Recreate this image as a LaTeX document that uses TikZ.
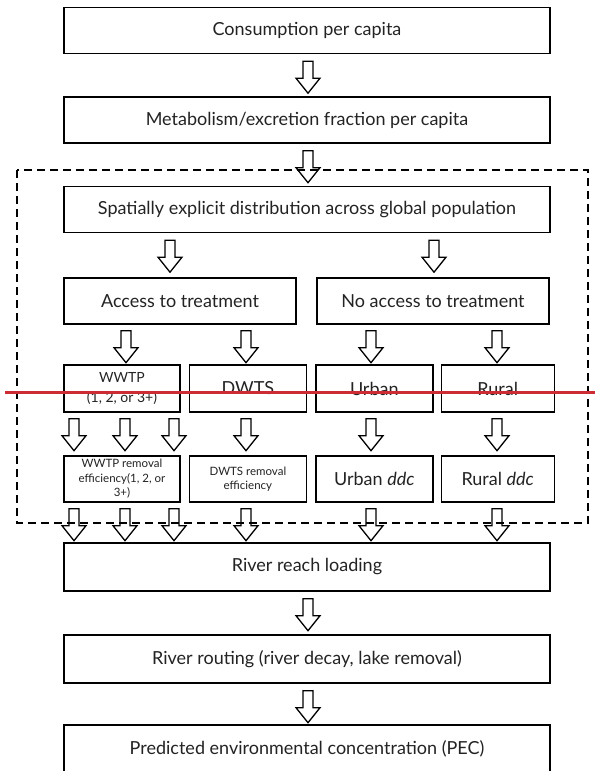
\documentclass[tikz,border=0pt]{standalone}
\usepackage{fontspec}
\setmainfont{Lato}
\usetikzlibrary{calc,positioning}
\definecolor{fltext}{RGB}{35,35,35}
\definecolor{flred}{RGB}{205,45,50}

\begin{document}
\begin{tikzpicture}[
    x=1pt, y=-1pt,
    box/.style={
        draw=black,
        line width=1.4pt,
        minimum height=46pt,
        inner sep=2pt,
        align=center,
        text=fltext,
        font=\fontsize{18}{20}\selectfont
    },
    wide/.style={box, minimum width=486pt},
    half/.style={box, minimum width=232pt},
    cell/.style={box, minimum width=116pt},
    small/.style={font=\fontsize{11.5}{14.5}\selectfont},
    twoline/.style={font=\fontsize{14}{20}\selectfont},
    frame/.style={draw, line width=1.3pt, dash pattern=on 8pt off 5pt},
    fatarrow/.pic={
        \draw[line width=1.3pt, line join=miter]
            (-5,0) -- (5,0) -- (5,17) -- (12,17) -- (0,32) -- (-12,17) -- (-5,17) -- cycle;
    }
]
\path[use as bounding box, fill=white] (0,0) rectangle (595,771);

% dashed frame round the spatial part.
\draw[frame] (17,170) rectangle (588,523);

% top column.
\node[wide] (cons) at (307,30.5) {Consumption per capita};
\node[wide] (meta) at (307,120) {Metabolism/excretion fraction per capita};
\node[wide] (spat) at (307,209.5) {Spatially explicit distribution across global population};

% treatment split.
\node[half] (acc) at (180,301) {Access to treatment};
\node[half] (noacc) at (433,301) {No access to treatment};

% treatment types.
\node[cell, twoline, minimum height=47pt] (wwtp) at (122,388.5) {WWTP\\(1, 2, or 3+)};
\node[cell, minimum height=47pt, minimum width=117pt, right=8pt of wwtp] (dwts) {DWTS};
\node[cell, minimum height=47pt, minimum width=117pt, right=8pt of dwts] (urban) {Urban};
\node[cell, minimum height=47pt, minimum width=113pt, right=7pt of urban] (rural) {Rural};

% removal / ddc.
\node[cell, small] (wwtprem) at (122,479) {WWTP removal\\efficiency(1, 2, or\\3+)};
\node[cell, small, minimum width=117pt, right=8pt of wwtprem] (dwtsrem) {DWTS removal\\efficiency};
\node[cell, minimum width=117pt, right=8pt of dwtsrem] (urbanddc) {Urban \textit{ddc}};
\node[cell, minimum width=113pt, right=7pt of urbanddc] (ruralddc) {Rural \textit{ddc}};

% river part.
\node[wide, minimum height=48pt] (reach) at (307,567) {River reach loading};
\node[wide, minimum height=48pt] (routing) at (307,659) {River routing (river decay, lake removal)};
\node[wide, minimum height=48pt] (pec) at (307,749) {Predicted environmental concentration (PEC)};

% block arrows.
\pic at ($(cons.south)+(1,7)$) {fatarrow};
\pic at ($(meta.south)+(1,7)$) {fatarrow};
\pic at ($(spat.south -| 170,0)+(0,7)$) {fatarrow};
\pic at ($(spat.south -| 434,0)+(0,7)$) {fatarrow};
\foreach \ax in {126,246,371,497}
    \pic at ($(acc.south -| \ax,0)+(0,6)$) {fatarrow};
\foreach \ax in {74,125,174,246,371,497} {
    \pic at ($(wwtp.south -| \ax,0)+(0,6)$) {fatarrow};
    \pic at ($(wwtprem.south -| \ax,0)+(0,6)$) {fatarrow};
}
\pic at ($(reach.south)+(1,7)$) {fatarrow};
\pic at ($(routing.south)+(1,7)$) {fatarrow};

\draw[flred, line width=3pt] (5,392) -- (595,392);

\end{tikzpicture}
\end{document}
